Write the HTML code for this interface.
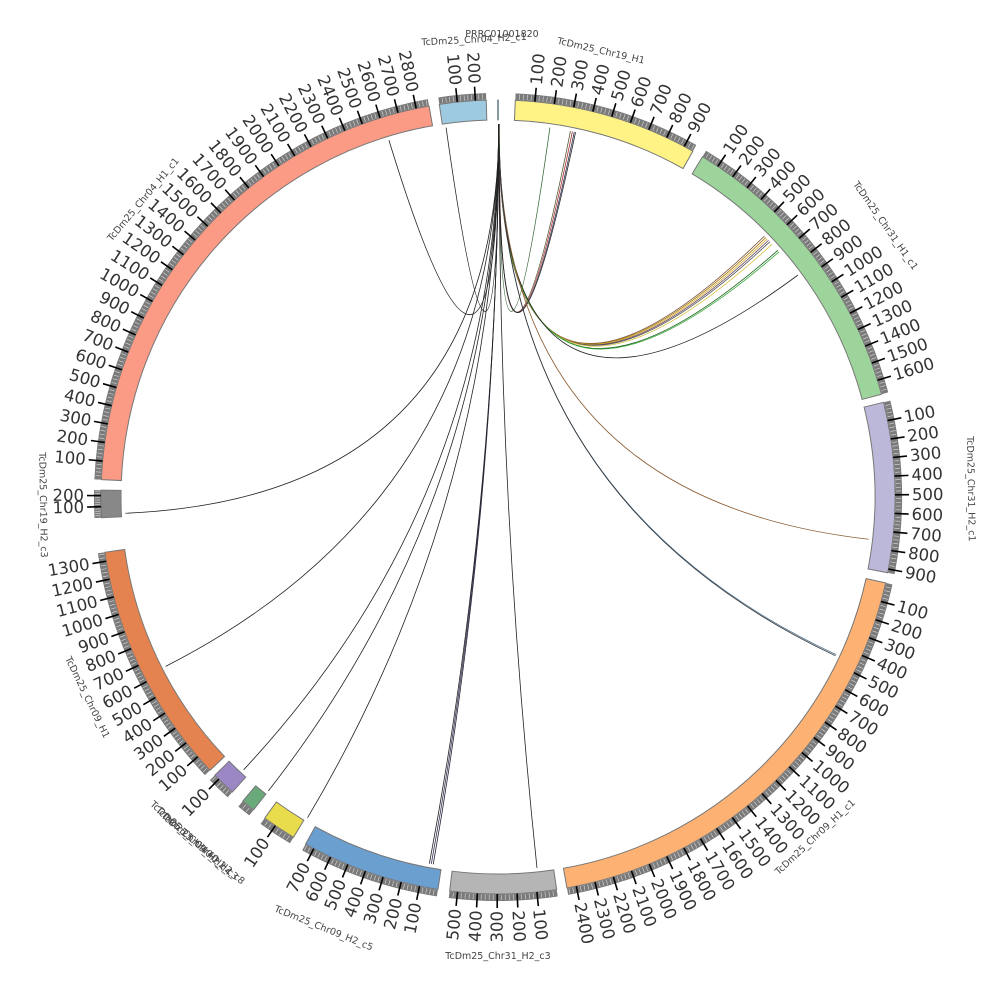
<!DOCTYPE html>
<html><head><meta charset="utf-8">
<style>
html,body{margin:0;padding:0;background:#fff;width:1000px;height:1000px;overflow:hidden}
svg text{font-family:"DejaVu Sans","Liberation Sans",sans-serif}
</style></head>
<body>
<svg id="s" width="1000" height="1000" viewBox="0 0 1000 1000" xmlns="http://www.w3.org/2000/svg">
<g id="chords" fill="none"></g>
<g id="segs"></g>
<g id="ticks"></g>
<g id="labs" font-size="16.5" fill="#333"></g>
<g id="names" font-size="9.5" fill="#444">
<text x="0" y="0" id="n0">PRRC01001820</text>
<text id="n1">TcDm25_Chr19_H1</text>
<text id="n2">TcDm25_Chr31_H1_c1</text>
<text id="n3">TcDm25_Chr31_H2_c1</text>
<text id="n4">TcDm25_Chr09_H1_c1</text>
<text id="n5">TcDm25_Chr31_H2_c3</text>
<text id="n6">TcDm25_Chr09_H2_c5</text>
<text id="n7">TcDm25_Chr40_H2_c8</text>
<text id="n8">TcDm25_Chr40_H2_c3</text>
<text id="n9">TcDm25_Chr09_H2_c4</text>
<text id="n10">TcDm25_Chr09_H1</text>
<text id="n11">TcDm25_Chr19_H2_c3</text>
<text id="n12">TcDm25_Chr04_H1_c1</text>
<text id="n13">TcDm25_Chr04_H2_c1</text>
</g>
</svg>
<script>
var cx=498,cy=497,R1=377,R2=397,NS="http://www.w3.org/2000/svg";
function P(a,r){var t=a*Math.PI/180;return [cx+r*Math.sin(t),cy-r*Math.cos(t)];}
function el(p,tag,at){var e=document.createElementNS(NS,tag);for(var k in at)e.setAttribute(k,at[k]);p.appendChild(e);return e;}
var segs=[
[-0.1,0.1,"#9ecae1",20],
[2.5,29.4,"#fff385",950],
[31,75,"#9dd49b",1680],
[76.2,101,"#bcb8da",920],
[102.5,170,"#fdb274",2450],
[171.5,187,"#b5b5b5",540],
[188.7,209,"#6a9fd0",750],
[211,216,"#e8dc4c",160],
[218,220,"#6aaa7a",60],
[222,225.5,"#9b87c3",130],
[226.5,262,"#e4834f",1350],
[267,271,"#888888",250],
[272.5,350,"#fb9a85",2870],
[351.5,358.3,"#9ecae1",260]];
var G=document.getElementById("segs"),T=document.getElementById("ticks"),L=document.getElementById("labs");
segs.forEach(function(s,i){
 var a0=s[0],a1=s[1];
 function arc(r0,r1){var p=P(a0,r1),q=P(a1,r1),u=P(a1,r0),v=P(a0,r0),lg=(a1-a0>180)?1:0;
  return "M"+p+" A"+r1+" "+r1+" 0 "+lg+" 1 "+q+" L"+u+" A"+r0+" "+r0+" 0 "+lg+" 0 "+v+"Z";}
 el(G,"path",{d:arc(R1,R2),fill:s[2],stroke:"#777","stroke-width":i==0?0.6:1});
 if(i==0)return;
 el(G,"path",{d:arc(R2+0.5,R2+7),fill:"#7a7a7a"});
 var sc=(a1-a0)/s[3];
 for(var u=20;u<s[3];u+=20){var a=a0+u*sc;var p=P(a,R2+1),q=P(a,R2+6);el(T,"line",{x1:p[0],y1:p[1],x2:q[0],y2:q[1],stroke:"#ddd","stroke-width":0.6});}
 for(var u=100;u<s[3];u+=100){var a=a0+u*sc;var p=P(a,R2),q=P(a,R2+14);
  el(T,"line",{x1:p[0],y1:p[1],x2:q[0],y2:q[1],stroke:"#000","stroke-width":1.6});
  var t=P(a,R2+17),rot,anc;
  if(a<180){rot=a-90;anc="start";}else{rot=a+90;anc="end";}
  var tx=el(L,"text",{x:t[0],y:t[1],"text-anchor":anc,"dominant-baseline":"central",transform:"rotate("+rot+" "+t[0]+" "+t[1]+")"});
  tx.textContent=u;}
});
var nm=[[0.5,460],[13,455],[55,470],[89,470],[137,468],[180,462],[202,468],[220,462],[221,462],[222,462],[244,460],[269,458],[310,460],[357,455]];
nm.forEach(function(n,i){var a=n[0],p=P(a,n[1]);var rot=a<=100?a:(a<=280?a-180:a-360);if(i==0)rot=0;
 var e=document.getElementById("n"+i);e.setAttribute("x",p[0]);e.setAttribute("y",p[1]);e.setAttribute("text-anchor","middle");
 e.setAttribute("transform","rotate("+rot+" "+p[0]+" "+p[1]+")");});
var C=document.getElementById("chords");
var ch=[[343,"#222"],[352,"#222"],[8,"#3a6a3a"],[11.2,"#553"],[11.5,"#a33"],[11.8,"#335"],[12,"#222"],
[45.6,"#754"],[45.9,"#a70"],[46.2,"#d4b030"],[46.5,"#646"],[46.8,"#555"],[47.3,"#d8c040"],[48.6,"#1a5a1a"],[48.9,"#3a3"],[53.5,"#222"],
[96.5,"#8a5a30"],[115,"#4a7090"],[115.2,"#333"],[174,"#222"],[190,"#223"],[190.3,"#335"],[190.6,"#222"],[210.7,"#222"],[218,"#222"],[223,"#222"],[243,"#222"],[267.5,"#222"]];
ch.forEach(function(c,i){var s=P(0.1+(i%5)*0.02,373),e=P(c[0],373);
 el(C,"path",{d:"M"+s+" Q"+cx+" "+cy+" "+e,stroke:c[1],"stroke-width":0.8});});
</script>
</body></html>
